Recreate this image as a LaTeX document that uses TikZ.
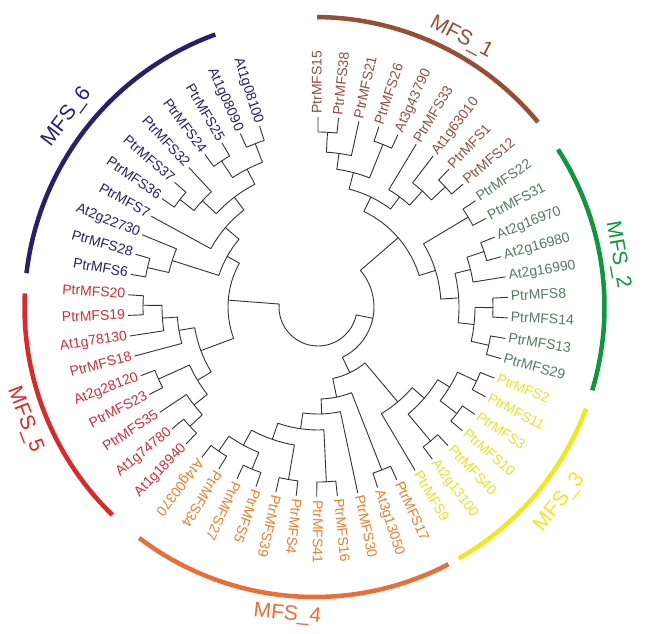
\documentclass[tikz,border=0pt]{standalone}
\usepackage{fontspec}
\setmainfont{Liberation Sans}
\definecolor{arcA}{RGB}{150,78,52}\definecolor{txtA}{RGB}{140,82,66}
\definecolor{arcB}{RGB}{16,150,60}\definecolor{txtB}{RGB}{84,122,104}
\definecolor{arcC}{RGB}{240,232,30}\definecolor{txtC}{RGB}{232,226,40}
\definecolor{arcD}{RGB}{232,112,56}\definecolor{txtD}{RGB}{226,130,50}
\definecolor{arcE}{RGB}{220,40,40}\definecolor{txtE}{RGB}{200,50,60}
\definecolor{arcF}{RGB}{42,30,110}\definecolor{txtF}{RGB}{40,36,100}
\def\st{6.22}
\tikzset{
 br/.style={line width=0.9pt,draw=black!80,line join=round},
 lbl/.style={inner sep=0pt,font=\fontsize{14}{16}\selectfont,text height=0.716em,text depth=0pt},
 garc/.style={line width=4.5pt},
 glbl/.style={inner sep=0pt,font=\fontsize{21}{24}\selectfont}
}
% internal node: child A index, child A radius, child B index, child B radius, node radius
\newcommand\tn[5]{%
 \pgfmathsetmacro\tkA{90-#1*\st}%
 \pgfmathsetmacro\tkB{90-#3*\st}%
 \draw[br] (\tkA:#2pt) -- (\tkA:#5pt) arc[start angle=\tkA, end angle=\tkB, radius=#5pt] -- (\tkB:#4pt);%
}
% leaf label, outward reading
\newcommand\lfo[3]{%
 \pgfmathsetmacro\tkA{90-#1*\st}%
 \node[lbl,text=#3,rotate=\tkA,anchor=west] (#2) at (\tkA:193pt) {#2};%
}
% leaf label, flipped
\newcommand\lff[3]{%
 \pgfmathsetmacro\tkA{90-#1*\st}%
 \pgfmathsetmacro\tkB{\tkA+180}%
 \node[lbl,text=#3,rotate=\tkB,anchor=east] (#2) at (\tkA:193pt) {#2};%
}
\begin{document}
\begin{tikzpicture}[x=1pt,y=1pt]
\useasboundingbox[fill=white] (0,0) rectangle (650,633);
\begin{scope}[shift={(318,326)}]
% ---- MFS_1
\tn{0}{190}{1}{190}{175}
\tn{0.5}{175}{2}{190}{155}
\tn{3}{190}{4}{190}{175}
\tn{1.25}{155}{3.5}{175}{139}
\tn{7}{190}{8}{190}{175}
\tn{6}{190}{7.5}{175}{156}
\tn{5}{190}{6.75}{156}{137}
\tn{2.375}{139}{5.875}{137}{122}
% ---- MFS_2
\tn{9}{190}{10}{190}{175}
\tn{11}{190}{12}{190}{175}
\tn{11.5}{175}{13}{190}{157}
\tn{14}{190}{15}{190}{175}
\tn{16}{190}{17}{190}{175}
\tn{14.5}{175}{16.5}{175}{157}
\tn{12.25}{157}{15.5}{157}{141}
\tn{9.5}{175}{13.875}{141}{123}
\tn{4.125}{122}{11.6875}{123}{106}
% ---- MFS_3
\tn{18}{190}{19}{190}{175}
\tn{20}{190}{21}{190}{175}
\tn{18.5}{175}{20.5}{175}{154}
\tn{22}{190}{23}{190}{175}
\tn{19.5}{154}{22.5}{175}{140}
\tn{21}{140}{24}{190}{124}
% ---- MFS_4
\tn{25}{190}{26}{190}{175}
\tn{28}{190}{29}{190}{175}
\tn{30}{190}{31}{190}{175}
\tn{32}{190}{33}{190}{175}
\tn{34}{190}{35}{190}{175}
\tn{32.5}{175}{34.5}{175}{157}
\tn{30.5}{175}{33.5}{157}{140}
\tn{28.5}{175}{32}{140}{123}
\tn{27}{190}{30.25}{123}{107}
\tn{25.5}{175}{28.625}{107}{92}
\tn{22.5}{124}{27.0625}{92}{73}
\tn{7.90625}{106}{24.78125}{73}{56}
% ---- MFS_5
\tn{36}{190}{37}{190}{175}
\tn{36.5}{175}{38}{190}{158}
\tn{39}{190}{40}{190}{175}
\tn{37.25}{158}{39.5}{175}{141}
\tn{43}{190}{44}{190}{175}
\tn{42}{190}{43.5}{175}{156}
\tn{41}{190}{42.75}{156}{141}
\tn{38.375}{141}{41.875}{141}{125}
% ---- MFS_6
\tn{45}{190}{46}{190}{175}
\tn{45.5}{175}{47}{190}{153}
\tn{49}{190}{50}{190}{175}
\tn{49.5}{175}{51}{190}{157}
\tn{52}{190}{53}{190}{175}
\tn{54}{190}{55}{190}{175}
\tn{52.5}{175}{54.5}{175}{155}
\tn{50.25}{157}{53.5}{155}{138}
\tn{48}{190}{51.875}{138}{122}
\tn{46.25}{153}{49.9375}{122}{104}
\tn{40.125}{125}{48.09375}{104}{90}
% ---- root
\tn{44.109375}{90}{16.34375}{56}{39}
% ---- leaf labels
\lfo{0}{PtrMFS15}{txtA}\lfo{1}{PtrMFS38}{txtA}\lfo{2}{PtrMFS21}{txtA}
\lfo{3}{PtrMFS26}{txtA}\lfo{4}{At3g43790}{txtA}\lfo{5}{PtrMFS33}{txtA}
\lfo{6}{At1g63010}{txtA}\lfo{7}{PtrMFS1}{txtA}\lfo{8}{PtrMFS12}{txtA}
\lfo{9}{PtrMFS22}{txtB}\lfo{10}{PtrMFS31}{txtB}\lfo{11}{At2g16970}{txtB}
\lfo{12}{At2g16980}{txtB}\lfo{13}{At2g16990}{txtB}\lfo{14}{PtrMFS8}{txtB}
\lfo{15}{PtrMFS14}{txtB}\lfo{16}{PtrMFS13}{txtB}\lfo{17}{PtrMFS29}{txtB}
\lfo{18}{PtrMFS2}{txtC}\lfo{19}{PtrMFS11}{txtC}\lfo{20}{PtrMFS3}{txtC}
\lfo{21}{PtrMFS10}{txtC}\lfo{22}{PtrMFS40}{txtC}\lfo{23}{At2g13100}{txtC}
\lfo{24}{PtrMFS9}{txtC}
\lfo{25}{PtrMFS17}{txtD}\lfo{26}{At3g13050}{txtD}\lfo{27}{PtrMFS30}{txtD}
\lfo{28}{PtrMFS16}{txtD}\lfo{29}{PtrMFS41}{txtD}\lfo{30}{PtrMFS4}{txtD}
\lfo{31}{PtrMFS39}{txtD}\lfo{32}{PtrMFS5}{txtD}\lfo{33}{PtrMFS27}{txtD}
\lfo{34}{PtrMFS34}{txtD}\lfo{35}{At4g00370}{txtD}
\lff{36}{At1g18940}{txtE}\lff{37}{At1g74780}{txtE}\lff{38}{PtrMFS35}{txtE}
\lff{39}{PtrMFS23}{txtE}\lff{40}{At2g28120}{txtE}\lff{41}{PtrMFS18}{txtE}
\lff{42}{At1g78130}{txtE}\lff{43}{PtrMFS19}{txtE}\lff{44}{PtrMFS20}{txtE}
\lff{45}{PtrMFS6}{txtF}\lff{46}{PtrMFS28}{txtF}\lff{47}{At2g22730}{txtF}
\lff{48}{PtrMFS7}{txtF}\lff{49}{PtrMFS36}{txtF}\lff{50}{PtrMFS37}{txtF}
\lff{51}{PtrMFS32}{txtF}\lff{52}{PtrMFS24}{txtF}\lff{53}{PtrMFS25}{txtF}
\lff{54}{At1g08090}{txtF}\lff{55}{At1g08100}{txtF}
% ---- group arcs
\begin{scope}[shift={(-3.5,0)}]
\draw[garc,arcA] (89.5:290pt) arc[start angle=89.5,end angle=39.6,radius=290pt];
\draw[garc,arcB] (32.9:290pt) arc[start angle=32.9,end angle=-16.7,radius=290pt];
\draw[garc,arcC] (-20.5:290pt) arc[start angle=-20.5,end angle=-60.2,radius=290pt];
\draw[garc,arcD] (-62.5:290pt) arc[start angle=-62.5,end angle=-127.2,radius=290pt];
\draw[garc,arcE] (177.3:290pt) arc[start angle=177.3,end angle=225.8,radius=290pt];
\draw[garc,arcF] (173.3:290pt) arc[start angle=173.3,end angle=110,radius=290pt];
\end{scope}
% ---- group labels
\node[glbl,text=arcA,rotate=-28] (g1) at (62:305pt) {MFS\_1};
\node[glbl,text=arcB,rotate=-80.2] (g2) at (9.8:304pt) {MFS\_2};
\node[glbl,text=arcC,rotate=51] (g3) at (-39:311pt) {MFS\_3};
\node[glbl,text=arcD,rotate=-5.7] (g4) at (-95.7:309pt) {MFS\_4};
\node[glbl,text=arcE,rotate=-69] (g5) at (201:314pt) {MFS\_5};
\node[glbl,text=arcF,rotate=52.9] (g6) at (142.9:315pt) {MFS\_6};
\end{scope}
\end{tikzpicture}
\end{document}
